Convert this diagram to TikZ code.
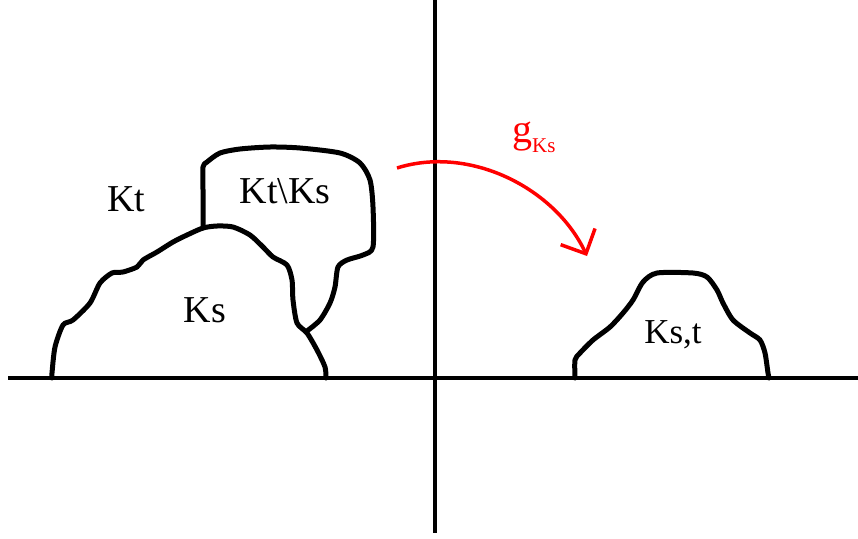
\documentclass[tikz,border=0pt]{standalone}
\usepackage{fontspec}
\setmainfont{Liberation Serif}
\usepackage{tikz}
\usetikzlibrary{arrows.meta}

\begin{document}
\begin{tikzpicture}[x=1pt, y=-1pt,
    blob/.style={line width=5pt, line join=round, line cap=round},
    lbl/.style={font=\fontsize{38}{42}\selectfont, anchor=base, inner sep=0pt}]
  \useasboundingbox (0,0) rectangle (858,538);

  % Axes
  \draw[line width=4.5pt] (8,378) -- (858,378);
  \draw[line width=4.5pt] (435,0) -- (435,533);

  % K_s
  \draw[blob] plot[smooth, tension=0.45] coordinates {(52,378) (52,373) (55,347) (63,325) (73,320) (90,303) (100,283) (112,273) (123,272) (137,267) (143,260) (157,252) (173,242) (187,235) (203,228) (217,226) (233,227) (250,235) (263,247) (273,257) (287,265) (292,280) (293,300) (297,323) (307,333) (317,350) (325,367) (326,378)};

  % K_t minus K_s
  \draw[blob] plot[smooth, tension=0.45] coordinates {(203,228) (203,190) (203,167) (207,162) (220,153) (240,149) (270,147) (300,148) (340,153) (360,163) (370,180) (373,207) (373,247) (363,255) (347,260) (338,267) (335,287) (330,303) (320,320) (307,331)};

  % K_{s,t}
  \draw[blob] plot[smooth, tension=0.45] coordinates {(575,378) (575,360) (580,353) (593,340) (610,327) (623,313) (633,300) (643,282) (657,273) (693,273) (707,277) (717,290) (723,303) (733,320) (750,333) (760,340) (765,353) (768,373) (769,378)};

  % Labels
  \node[lbl] (kt) at (126,211) {Kt};
  \node[lbl] (ktks) at (285,203) {Kt\textbackslash Ks};
  \node[lbl] (ks) at (205,322) {Ks};
  \node[lbl, font=\fontsize{35}{40}\selectfont] (kst) at (673,343) {Ks,t};

  % Map g_{Ks}
  \coordinate (gstart) at (397,168);
  \coordinate (gend) at (587,256);
  \draw[red, line width=3.5pt, -{Straight Barb[length=19pt, width=38pt]}]
    (gstart) .. controls (470,145) and (555,188) .. (gend);
  \node[red, anchor=base west, inner sep=0pt] (glbl) at (512,142)
    {{\fontsize{40}{42}\selectfont g}\raisebox{-10pt}{\fontsize{21}{23}\selectfont Ks}};
\end{tikzpicture}
\end{document}
